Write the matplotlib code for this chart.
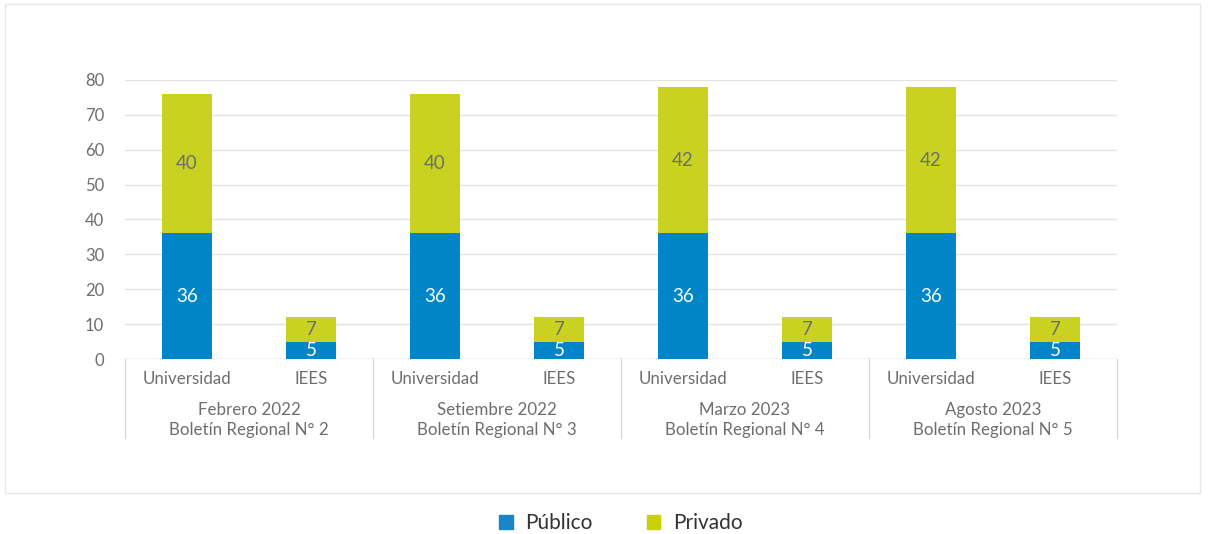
import matplotlib

matplotlib.use("Agg")
import matplotlib.pyplot as plt
from matplotlib.patches import Rectangle
from matplotlib.lines import Line2D

plt.rcParams["font.family"] = ["Lato", "DejaVu Sans"]

groups = ["Febrero 2022\nBoletín Regional N° 2", "Setiembre 2022\nBoletín Regional N° 3",
          "Marzo 2023\nBoletín Regional N° 4", "Agosto 2023\nBoletín Regional N° 5"]
types = ["Universidad", "IEES"]
publico = [36, 5, 36, 5, 36, 5, 36, 5]
privado = [40, 7, 40, 7, 42, 7, 42, 7]

BLUE = "#0086c8"
GREEN = "#c9d221"
GRID = "#e3e3e3"
TXT = "#6e6e6e"

W, H = 1210, 534
PX = 3.4875  # pixels per data unit on y
fig = plt.figure(figsize=(W / 100, H / 100), dpi=100)
ax = fig.add_axes([125 / W, (H - 359) / H, (1117 - 125) / W, (359 - 80) / H])

x = list(range(len(publico)))
ax.bar(x, publico, width=0.4, color=BLUE, zorder=3)
ax.bar(x, privado, width=0.4, bottom=publico, color=GREEN, zorder=3)

for i in x:
    ax.text(i, publico[i] / 2, str(publico[i]), ha="center", va="center",
            color="white", fontsize=13.5, zorder=4)
    ax.text(i, publico[i] + privado[i] / 2, str(privado[i]), ha="center", va="center",
            color=TXT, fontsize=13.5, zorder=4)

ax.set_xlim(-0.5, len(x) - 0.5)
ax.set_ylim(0, 80)
ax.set_yticks(range(0, 81, 10))
ax.tick_params(axis="y", length=0, labelsize=12, labelcolor=TXT, pad=15)
ax.set_xticks([])
ax.yaxis.grid(True, color=GRID, lw=1, zorder=0)
for s in ax.spines.values():
    s.set_visible(False)
ax.axhline(0, color="#d9d9d9", lw=1, zorder=2)

# category axis: bar type labels, group labels and separators
for i in x:
    ax.text(i, -20 / PX, types[i % 2], ha="center", va="center",
            color=TXT, fontsize=12.2, clip_on=False)
for g, lab in enumerate(groups):
    ax.text(2 * g + 0.5, -61 / PX, lab, ha="center", va="center",
            color=TXT, fontsize=12.2, linespacing=1.25, clip_on=False)
for g in range(len(groups) + 1):
    xs = 2 * g - 0.5
    ax.add_line(Line2D([xs, xs], [0, -79 / PX], color="#d9d9d9", lw=1, clip_on=False))

# outer frame
fig.add_artist(Rectangle((5 / W, (H - 493) / H), 1195 / W, 489 / H,
                         transform=fig.transFigure, fill=False, ec="#e6e6e6", lw=1))

# legend
handles = [Rectangle((0, 0), 1, 1, color="#1a85c8"), Rectangle((0, 0), 1, 1, color="#c9d200")]
fig.legend(handles, ["Público", "Privado"], loc="center", bbox_to_anchor=(621 / W, (H - 523) / H),
           ncol=2, frameon=False, fontsize=15, handlelength=0.65, handleheight=0.65,
           columnspacing=2.6, handletextpad=0.6, labelcolor="#333333")

fig.savefig("out.png", dpi=100)
